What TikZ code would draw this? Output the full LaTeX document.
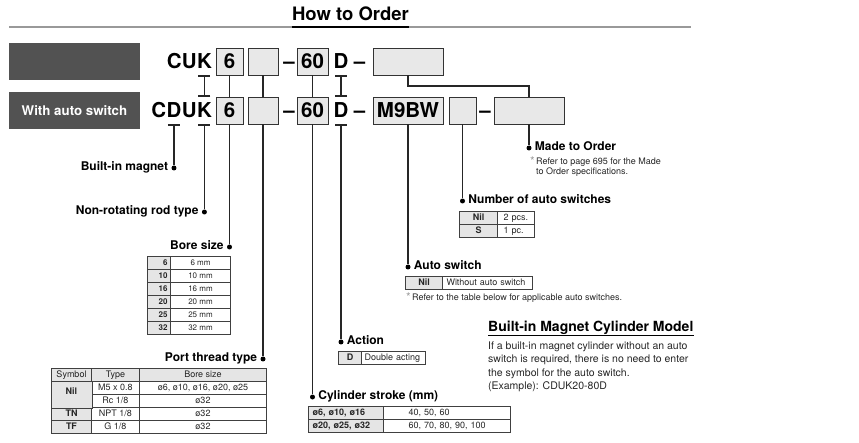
\documentclass[tikz,border=0pt]{standalone}
\usepackage{fontspec}
\setmainfont{TeX Gyre Heros}
\usetikzlibrary{matrix,positioning,arrows.meta,fit,calc}
\tikzset{
codebox/.style={
  draw=black!80,
  fill=black!9,
  line width=0.9pt,
  minimum height=27pt,
  inner sep=0pt,
  font=\fontsize{20.5}{20.5}\selectfont\bfseries
  },
code/.style={inner sep=0pt, font=\fontsize{20.5}{20.5}\selectfont\bfseries},
bar/.style={
  fill=black!68,
  minimum width=131pt,
  minimum height=37pt,
  text=white,
  font=\fontsize{13.3}{13.3}\selectfont\bfseries
  },
conn/.style={draw=black!85, line width=1.1pt},
tick/.style={{Bar[width=12pt]}-},
ticks/.style={{Bar[width=12pt]}-{Bar[width=12pt]}},
dot/.style={circle, fill=black, inner sep=0pt, minimum size=5pt},
lbl/.style={inner sep=0pt, font=\fontsize{12}{12}\selectfont\bfseries},
note/.style={inner sep=0pt, align=left, text=black!85, font=\fontsize{9}{10}\selectfont},
tab/.style={
  matrix of nodes,
  anchor=north west,
  inner sep=0pt,
  nodes in empty cells,
  column sep=-0.6pt,
  row sep=-0.6pt,
  nodes={
    draw=black!75,
    line width=0.6pt,
    minimum height=13pt,
    inner sep=0pt,
    text height=6.6pt,
    text depth=2pt,
    text=black!85,
    font=\fontsize{9}{9}\selectfont
    }
  },
sh/.style={fill=black!10},
bf/.style={font=\fontsize{9}{9}\selectfont\bfseries}
}
\newcommand\starmark{\llap{\textcolor{black!40}{\raisebox{-1.5pt}{\large *}}\,}}

\begin{document}
\begin{tikzpicture}[x=1pt, y=-1pt]
\useasboundingbox (0,0) rectangle (859,443);

% heading
\node[anchor=base, inner sep=0pt, font=\fontsize{18.5}{18.5}\selectfont\bfseries] (title) at (350.5,21) {How to Order};
\draw[black!40, line width=2pt] (9,27) -- (691,27);
\draw[line width=2.4pt] (title.west |- 0,27) -- (title.east |- 0,27);

\node[bar] (plain) at (74.5,61.5) {};
\node[bar] (auto) at (74.5,110.5) {With auto switch};

% model code, first row
\node[code, anchor=base east] (ka) at (212,69) {K};
\node[code, anchor=base east] (cua) at (ka.base west) {CU};
\node[codebox, minimum width=27pt] (sizea) at (229.5,61.5) {6};
\node[codebox, minimum width=30pt] (porta) at (263,61.5) {};
\node[code, anchor=base] at (289,69) {–};
\node[codebox, minimum width=31pt] (strokea) at (312.5,61.5) {60};
\node[code, anchor=base] (acta) at (341,69) {D};
\node[code, anchor=base] at (359.5,69) {–};
\node[codebox, minimum width=70pt] (orda) at (408,61.5) {};

% model code, second row
\node[code, anchor=base east] (kb) at (212,118) {K};
\node[code, anchor=base east] (ub) at (kb.base west) {U};
\node[code, anchor=base east] (mag) at (ub.base west) {D};
\node[code, anchor=base east] at (mag.base west) {C};
\node[codebox, minimum width=27pt] (sizeb) at (229.5,110.5) {6};
\node[codebox, minimum width=30pt] (portb) at (263,110.5) {};
\node[code, anchor=base] at (289,118) {–};
\node[codebox, minimum width=31pt] (strokeb) at (312.5,110.5) {60};
\node[code, anchor=base] (actb) at (341,118) {D};
\node[code, anchor=base] at (359.5,118) {–};
\node[codebox, minimum width=70pt] (sw) at (408,110.5) {M9BW};
\node[codebox, minimum width=27pt] (nsw) at (462.5,110.5) {};
\node[code, anchor=base] at (485,118) {–};
\node[codebox, minimum width=70pt] (ordb) at (529,110.5) {};

\foreach \n in {size,port,stroke}
  \draw[conn] (\n a) -- (\n b);
\draw[conn, ticks] (ka.base |- sizea.south) -- (kb.base |- sizeb.north);
\draw[conn, ticks] (acta.base |- sizea.south) -- (actb.base |- sizeb.north);
\draw[conn] (orda.south) -- (orda.south |- 0,86) -| (ordb.north);

% dots
\node[dot] (magdot) at (mag |- 0,168) {};
\node[dot] (rotdot) at (kb |- 0,212) {};
\node[dot] (boredot) at (sizeb |- 0,247) {};
\node[dot] (portdot) at (portb |- 0,359) {};
\node[dot] (strokedot) at (strokeb |- 0,397) {};
\node[dot] (actdot) at (actb |- 0,342) {};
\node[dot] (swdot) at (sw |- 0,267) {};
\node[dot] (nswdot) at (nsw |- 0,201) {};
\node[dot] (orddot) at (ordb |- 0,148) {};

\draw[conn, tick] (mag.base |- sizeb.south) -- (magdot);
\draw[conn, tick] (kb.base |- sizeb.south) -- (rotdot);
\draw[conn, tick] (actb.base |- sizeb.south) -- (actdot);
\foreach \n/\d in {sizeb/boredot, portb/portdot, strokeb/strokedot, sw/swdot, nsw/nswdot, ordb/orddot}
  \draw[conn] (\n) -- (\d);

% labels
\node[lbl, anchor=mid east] at ([xshift=-3pt]magdot.west) {Built-in magnet};
\node[lbl, anchor=mid east] at ([xshift=-3pt]rotdot.west) {Non-rotating rod type};
\node[lbl, anchor=mid east] at ([xshift=-3pt]boredot.west) {Bore size};
\node[lbl, anchor=mid east] at ([xshift=-3pt]portdot.west) {Port thread type};
\node[lbl, anchor=mid west] at ([xshift=3pt]strokedot.east) {Cylinder stroke (mm)};
\node[lbl, anchor=mid west] at ([xshift=3pt]actdot.east) {Action};
\node[lbl, anchor=mid west] at ([xshift=3pt]swdot.east) {Auto switch};
\node[lbl, anchor=mid west] at ([xshift=3pt]nswdot.east) {Number of auto switches};
\node[lbl, anchor=mid west] at ([xshift=3pt]orddot.east) {Made to Order};

% tables
\matrix[tab,
  column 1/.style={nodes={sh, minimum width=23pt, text width=17pt, align=right, font=\fontsize{8}{8}\selectfont\bfseries}},
  column 2/.style={nodes={minimum width=60pt, font=\fontsize{8}{8}\selectfont}}
  ] (bore) at (147,256)
{
6 & 6 mm \\
10 & 10 mm \\
16 & 16 mm \\
20 & 20 mm \\
25 & 25 mm \\
32 & 32 mm \\
};

\matrix[tab,
  column 1/.style={nodes={minimum width=40pt}},
  column 2/.style={nodes={minimum width=48pt}},
  column 3/.style={nodes={minimum width=127pt}}
  ] (port) at (51,368)
{
|[sh]| Symbol & |[sh]| Type & |[sh]| Bore size \\
 & M5 x 0.8 & ø6, ø10, ø16, ø20, ø25 \\
 & Rc 1/8 & ø32 \\
|[sh,bf]| TN & NPT 1/8 & ø32 \\
|[sh,bf]| TF & G 1/8 & ø32 \\
};
\node[draw=black!75, line width=0.6pt, sh, inner sep=0pt, text=black!85, font=\fontsize{9}{9}\selectfont\bfseries, fit=(port-2-1)(port-3-1)] (nilport) {Nil};

\matrix[tab,
  column 1/.style={nodes={sh, bf, minimum width=23pt}},
  column 2/.style={nodes={minimum width=64pt, text width=58pt, align=left}}
  ] (action) at (338,351)
{
D & Double acting \\
};

\matrix[tab,
  column 1/.style={nodes={sh, bf, minimum width=75pt, text width=67pt, align=left}},
  column 2/.style={nodes={minimum width=127pt, text width=77pt, align=left}}
  ] (stroke) at (308,406)
{
ø6, ø10, ø16 & 40, 50, 60 \\
ø20, ø25, ø32 & \mbox{60, 70, 80, 90, 100} \\
};

\matrix[tab,
  column 1/.style={nodes={sh, bf, minimum width=37pt}},
  column 2/.style={nodes={minimum width=90pt, text width=82pt, align=left}}
  ] (switch) at (405,276)
{
Nil & Without auto switch \\
};
\node[note, anchor=mid west] (swnote) at (412,297.5) {\starmark Refer to the table below for applicable auto switches.};

\matrix[tab,
  column 1/.style={nodes={sh, bf, minimum width=38pt}},
  column 2/.style={nodes={minimum width=37pt, text width=25pt, align=left}}
  ] (count) at (459,211)
{
Nil & 2 pcs. \\
S & 1 pc. \\
};

\node[note, anchor=north west] (ordnote) at (536,157) {\starmark Refer to page 695 for the Made\\to Order specifications.};

% magnet cylinder remark
\node[anchor=base west, inner sep=0pt, font=\fontsize{14}{14}\selectfont\bfseries] (model) at (488,332) {Built-in Magnet Cylinder Model};
\draw[line width=1.2pt] (model.west |- 0,335.5) -- (model.east |- 0,335.5);
\node[note, anchor=north west, font=\fontsize{10.5}{13.5}\selectfont] (modeltext) at (488,341.5)
  {If a built-in magnet cylinder without an auto\\switch is required, there is no need to enter\\the symbol for the auto switch.\\(Example): CDUK20-80D};
\end{tikzpicture}
\end{document}
